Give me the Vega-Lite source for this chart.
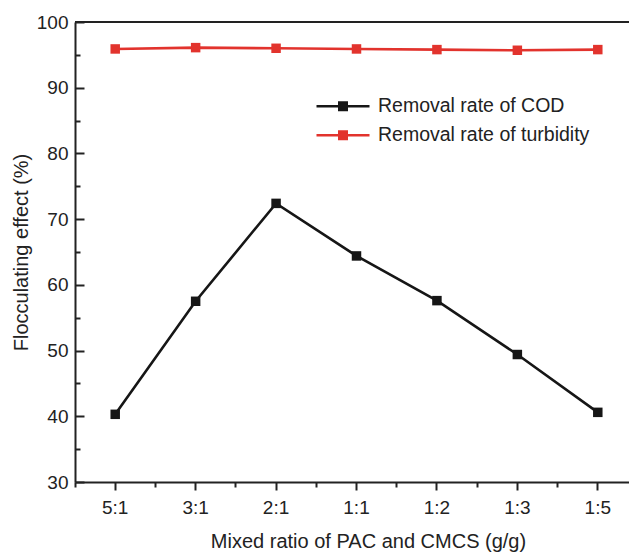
{
  "$schema": "https://vega.github.io/schema/vega-lite/v6.json",
  "width": 554,
  "height": 460,
  "autosize": "none",
  "padding": {"left": 75, "top": 22, "right": 0, "bottom": 70},
  "config": {
    "view": {"stroke": null},
    "font": "Liberation Sans",
    "axis": {"domainColor": "#222", "domainWidth": 2, "tickColor": "#222", "tickWidth": 2, "labelColor": "#222", "titleColor": "#222", "labelFontSize": 19, "titleFontSize": 20, "titleFontWeight": "normal", "grid": false}
  },
  "data": {
    "values": [
      {"ratio": "5:1", "series": "Removal rate of COD", "value": 40.3},
      {"ratio": "3:1", "series": "Removal rate of COD", "value": 57.5},
      {"ratio": "2:1", "series": "Removal rate of COD", "value": 72.4},
      {"ratio": "1:1", "series": "Removal rate of COD", "value": 64.4},
      {"ratio": "1:2", "series": "Removal rate of COD", "value": 57.6},
      {"ratio": "1:3", "series": "Removal rate of COD", "value": 49.4},
      {"ratio": "1:5", "series": "Removal rate of COD", "value": 40.6},
      {"ratio": "5:1", "series": "Removal rate of turbidity", "value": 95.9},
      {"ratio": "3:1", "series": "Removal rate of turbidity", "value": 96.1},
      {"ratio": "2:1", "series": "Removal rate of turbidity", "value": 96.0},
      {"ratio": "1:1", "series": "Removal rate of turbidity", "value": 95.9},
      {"ratio": "1:2", "series": "Removal rate of turbidity", "value": 95.8},
      {"ratio": "1:3", "series": "Removal rate of turbidity", "value": 95.7},
      {"ratio": "1:5", "series": "Removal rate of turbidity", "value": 95.8}
    ]
  },
  "resolve": {"axis": {"x": "independent", "y": "independent"}},
  "layer": [
    {
      "mark": {"type": "line", "strokeWidth": 2.6, "point": {"shape": "square", "size": 90, "filled": true, "opacity": 1}},
      "encoding": {
        "x": {
          "field": "ratio", "type": "nominal", "sort": null,
          "scale": {"type": "band", "range": [0, 563], "paddingInner": 0, "paddingOuter": 0},
          "axis": {"orient": "bottom", "title": "Mixed ratio of PAC and CMCS (g/g)", "labelAngle": 0, "bandPosition": 0.5, "tickSize": 8, "labelPadding": 8, "titlePadding": 14, "titleX": 293}
        },
        "y": {
          "field": "value", "type": "quantitative",
          "scale": {"domain": [30, 100], "nice": false, "zero": false},
          "axis": {"orient": "left", "title": "Flocculating effect (%)", "values": [30, 40, 50, 60, 70, 80, 90, 100], "tickSize": -9, "labelPadding": 16, "titlePadding": 5}
        },
        "color": {
          "field": "series", "type": "nominal",
          "scale": {"domain": ["Removal rate of COD", "Removal rate of turbidity"], "range": ["#161616", "#e2332d"]},
          "legend": {
            "orient": "none", "legendX": 240, "legendY": 70, "title": null,
            "symbolType": "M-1,0H1M-0.14,-0.14H0.14V0.14H-0.14Z",
            "symbolSize": 2809, "symbolStrokeWidth": 2.6, "clipHeight": 28.5,
            "labelFontSize": 19.5, "labelColor": "#222", "labelOffset": 7, "labelLimit": 0, "rowPadding": 0, "padding": 0,
            "encode": {"symbols": {"update": {"fill": {"scale": "color", "field": "value"}, "stroke": {"scale": "color", "field": "value"}, "opacity": {"value": 1}}}}
          }
        }
      }
    },
    {
      "mark": {"type": "point", "opacity": 0},
      "encoding": {
        "x": {
          "field": "ratio", "type": "nominal", "sort": null,
          "scale": {"type": "band", "range": [0, 563], "paddingInner": 0, "paddingOuter": 0},
          "axis": {"orient": "bottom", "title": null, "labels": false, "domain": false, "bandPosition": 0, "tickSize": 5}
        },
        "y": {
          "field": "value", "type": "quantitative",
          "axis": {"orient": "left", "title": null, "labels": false, "domain": false, "values": [35, 45, 55, 65, 75, 85, 95], "tickSize": -5}
        }
      }
    },
    {
      "mark": {"type": "rule", "color": "#222", "strokeWidth": 2},
      "encoding": {"y": {"datum": 100, "type": "quantitative", "axis": null}}
    }
  ]
}
